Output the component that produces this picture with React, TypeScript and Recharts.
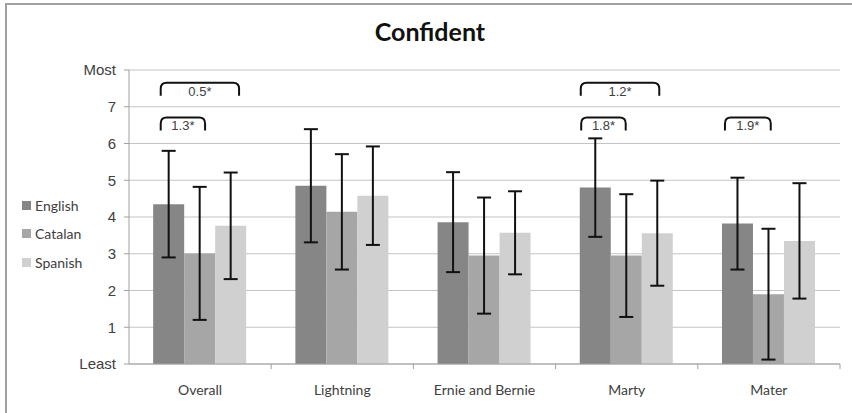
import React from "react";
import {
  ComposedChart,
  Bar,
  XAxis,
  YAxis,
  CartesianGrid,
  ErrorBar,
  ReferenceLine,
} from "recharts";

const categories = ["Overall", "Lightning", "Ernie and Bernie", "Marty", "Mater"];
const seriesNames = ["English", "Catalan", "Spanish"];
const english = [4.35, 4.85, 3.86, 4.8, 3.82];
const catalan = [3.01, 4.14, 2.95, 2.95, 1.9];
const spanish = [3.76, 4.58, 3.57, 3.56, 3.35];
const englishErr = [1.45, 1.54, 1.36, 1.34, 1.25];
const catalanErr = [1.81, 1.57, 1.58, 1.67, 1.78];
const spanishErr = [1.45, 1.34, 1.13, 1.43, 1.57];
const yTicks = [0, 1, 2, 3, 4, 5, 6, 7, 8];
const yTickLabels: Record<number, string> = { 0: "Least", 8: "Most" };

// significance brackets: x positions in category units (category i spans i..i+1)
const brackets = [
  { x1: 0.223, x2: 0.774, y: 7.65, label: "0.5*" },
  { x1: 0.223, x2: 0.535, y: 6.71, label: "1.3*" },
  { x1: 3.177, x2: 3.729, y: 7.65, label: "1.2*" },
  { x1: 3.18, x2: 3.493, y: 6.71, label: "1.8*" },
  { x1: 4.191, x2: 4.513, y: 6.71, label: "1.9*" },
];

const colors = ["#868686", "#a6a6a6", "#d0d0d0"];

const data = categories.map((c, i) => ({
  name: c,
  pos: i + 0.5,
  English: english[i],
  Catalan: catalan[i],
  Spanish: spanish[i],
  EnglishErr: englishErr[i],
  CatalanErr: catalanErr[i],
  SpanishErr: spanishErr[i],
}));

const XTick = (props: any) => {
  const { x, y, payload } = props;
  const half = payload && typeof payload.offset === "number" ? payload.offset : 71.1;
  return (
    <g>
      <line x1={x + half} x2={x + half} y1={y - 5} y2={y} stroke="#a0a0a0" strokeWidth={1} />
      <text
        x={x}
        y={y + 26}
        textAnchor="middle"
        fill="#404040"
        fontSize={14}
        fontFamily="Lato, 'Open Sans', sans-serif"
      >
        {payload.value}
      </text>
    </g>
  );
};

const makeBracket = (label: string) => (p: any) => {
  const { x1, x2, y1 } = p;
  const arm = 13;
  const r = 6;
  const d = `M${x1},${y1 + arm} L${x1},${y1 + r} Q${x1},${y1} ${x1 + r},${y1} L${x2 - r},${y1} Q${x2},${y1} ${x2},${y1 + r} L${x2},${y1 + arm}`;
  return (
    <g>
      <path d={d} fill="none" stroke="#111" strokeWidth={2} />
      <text
        x={(x1 + x2) / 2}
        y={y1 + 13}
        textAnchor="middle"
        fill="#404040"
        fontSize={13}
        fontFamily="'Liberation Sans', Arial, sans-serif"
      >
        {label}
      </text>
    </g>
  );
};

export default function App() {
  return (
    <div
      style={{
        position: "absolute",
        left: 0,
        top: 0,
        width: 852,
        height: 413,
        overflow: "hidden",
        background: "#fff",
      }}
    >
      <div
        style={{
          position: "absolute",
          left: 5,
          top: 3,
          width: 900,
          height: 500,
          border: "2px solid #a0a0a0",
          boxSizing: "border-box",
        }}
      />
      <div
        style={{
          position: "absolute",
          left: 0,
          top: 16,
          width: 860,
          textAlign: "center",
          fontFamily: "Lato, 'Open Sans', sans-serif",
          fontWeight: 700,
          fontSize: 25,
          color: "#111",
        }}
      >
        Confident
      </div>
      {seriesNames.map((s, i) => (
        <div
          key={s}
          style={{
            position: "absolute",
            left: 22,
            top: 196 + i * 28.5,
            height: 18,
            display: "flex",
            alignItems: "center",
            fontFamily: "Lato, 'Open Sans', sans-serif",
            fontSize: 14,
            color: "#404040",
          }}
        >
          <span
            style={{
              display: "inline-block",
              width: 9,
              height: 9,
              background: colors[i],
              marginRight: 4,
            }}
          />
          {s}
        </div>
      ))}
      <div style={{ position: "absolute", left: 0, top: 0 }}>
        <ComposedChart
          width={852}
          height={413}
          data={data}
          margin={{ top: 70, right: 12, bottom: 9, left: 0 }}
          barCategoryGap="17%"
          barGap={0}
        >
          <CartesianGrid vertical={false} stroke="#c4c4c4" strokeWidth={1.2} />
          <XAxis
            dataKey="name"
            height={40}
            tickLine={false}
            tickSize={5}
            tickMargin={0}
            axisLine={{ stroke: "#a0a0a0" }}
            tick={<XTick />}
            interval={0}
          />
          <XAxis
            xAxisId="n"
            dataKey="pos"
            type="number"
            domain={[0, 5]}
            allowDataOverflow
            ticks={[0, 1, 2, 3, 4, 5]}
            hide
          />
          <YAxis
            width={129}
            domain={[0, 8]}
            ticks={yTicks}
            interval={0}
            tickFormatter={(v: number) => yTickLabels[v] ?? String(v)}
            tickSize={5}
            tickMargin={8}
            axisLine={{ stroke: "#a0a0a0" }}
            tickLine={{ stroke: "#a0a0a0" }}
            tick={{
              fill: "#404040",
              fontSize: 15,
              fontFamily: "'Liberation Sans', Arial, sans-serif",
            }}
          />
          {seriesNames.map((s, i) => (
            <Bar key={s} dataKey={s} fill={colors[i]} isAnimationActive={false}>
              <ErrorBar
                dataKey={`${s}Err`}
                width={7}
                strokeWidth={2}
                stroke="#111"
                direction="y"
              />
            </Bar>
          ))}
          {brackets.map((b) => (
            <ReferenceLine
              key={b.label + b.x1}
              xAxisId="n"
              segment={[
                { x: b.x1, y: b.y },
                { x: b.x2, y: b.y },
              ]}
              stroke="#111"
              ifOverflow="visible"
              shape={makeBracket(b.label)}
            />
          ))}
        </ComposedChart>
      </div>
    </div>
  );
}
